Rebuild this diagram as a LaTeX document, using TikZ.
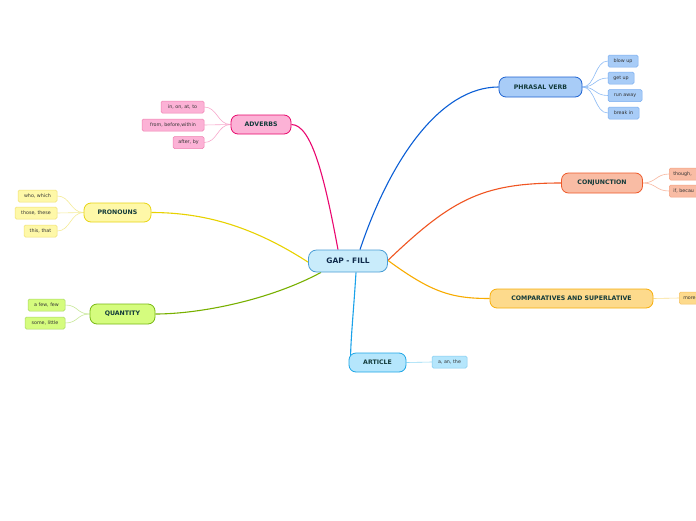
\documentclass[tikz,border=0pt]{standalone}
\usepackage{fontspec}
\setmainfont{DejaVu Sans}
\usetikzlibrary{backgrounds}
\definecolor{maintext}{HTML}{123A3A}
\definecolor{ctext}{HTML}{0F2A4A}
\definecolor{leaftext}{HTML}{333333}
\definecolor{cfill}{HTML}{C9ECFB}\definecolor{cdraw}{HTML}{4A9ED6}
\definecolor{pvfill}{HTML}{A8CCF7}\definecolor{pvdraw}{HTML}{1E63D2}\definecolor{pvedge}{HTML}{0B5FD6}\definecolor{pvldraw}{HTML}{7AAEF0}\definecolor{pvledge}{HTML}{8FBCF5}
\definecolor{cjfill}{HTML}{F9BCA4}\definecolor{cjdraw}{HTML}{EE5A2A}\definecolor{cjedge}{HTML}{F05522}\definecolor{cjldraw}{HTML}{F5A080}\definecolor{cjledge}{HTML}{F8B8A0}
\definecolor{cmfill}{HTML}{FDDA8C}\definecolor{cmdraw}{HTML}{F7AE0C}\definecolor{cmedge}{HTML}{F8AC00}\definecolor{cmldraw}{HTML}{F5C060}\definecolor{cmledge}{HTML}{FADF90}
\definecolor{arfill}{HTML}{B5E6FC}\definecolor{ardraw}{HTML}{1EA6E6}\definecolor{aredge}{HTML}{1AA2EA}\definecolor{arldraw}{HTML}{80CCF0}\definecolor{arledge}{HTML}{90D8F5}
\definecolor{qufill}{HTML}{D5FC7E}\definecolor{qudraw}{HTML}{78B814}\definecolor{quedge}{HTML}{78B000}\definecolor{quldraw}{HTML}{A8D860}\definecolor{quledge}{HTML}{C8E898}
\definecolor{prfill}{HTML}{FEF8A8}\definecolor{prdraw}{HTML}{E8D414}\definecolor{predge}{HTML}{E8D200}\definecolor{prldraw}{HTML}{F0E070}\definecolor{prledge}{HTML}{F5EC98}
\definecolor{adfill}{HTML}{FCB2D6}\definecolor{addraw}{HTML}{E8086C}\definecolor{adedge}{HTML}{EA0870}\definecolor{adldraw}{HTML}{F080B0}\definecolor{adledge}{HTML}{F8A8CC}
\begin{document}
\begin{tikzpicture}[x=1pt,y=-1pt,
  mainnode/.style={draw, rounded corners=7pt, line width=0.8pt, inner sep=0pt,
    font=\bfseries\fontsize{6.2}{7}\selectfont, text=maintext},
  leafnode/.style={draw, rounded corners=1.5pt, line width=0.5pt, inner sep=0pt,
    minimum height=12pt, font=\fontsize{4.8}{5}\selectfont, text=leaftext},
  mainedge/.style={line width=1.1pt},
  leafedge/.style={line width=0.6pt}]
\useasboundingbox (0,0) rectangle (696,520);
\clip (0,0) rectangle (696,520);

% central
\node[mainnode, fill=cfill, draw=cdraw, text=ctext, rounded corners=8pt,
  minimum width=79pt, minimum height=22pt, font=\bfseries\fontsize{7.5}{8}\selectfont] (c) at (348,261) {GAP - FILL};

% main topics
\node[mainnode, fill=pvfill, draw=pvdraw, minimum width=83pt, minimum height=20pt] (pv) at (540.5,87) {PHRASAL VERB};
\node[mainnode, fill=cjfill, draw=cjdraw, minimum width=81pt, minimum height=20pt] (cj) at (602,183) {CONJUNCTION};
\node[mainnode, fill=cmfill, draw=cmdraw, minimum width=163pt, minimum height=19pt] (cm) at (571.5,298.5) {COMPARATIVES AND SUPERLATIVE};
\node[mainnode, fill=arfill, draw=ardraw, minimum width=57pt, minimum height=19pt] (ar) at (377.5,362.5) {ARTICLE};
\node[mainnode, fill=qufill, draw=qudraw, minimum width=65pt, minimum height=20pt] (qu) at (122.5,314) {QUANTITY};
\node[mainnode, fill=prfill, draw=prdraw, minimum width=67pt, minimum height=19pt] (pr) at (117.5,212.5) {PRONOUNS};
\node[mainnode, fill=adfill, draw=addraw, minimum width=60pt, minimum height=19pt] (ad) at (261,124.5) {ADVERBS};

% phrasal verb leaves
\node[leafnode, fill=pvfill, draw=pvldraw, minimum width=30pt] (pv1) at (623,61) {blow up};
\node[leafnode, fill=pvfill, draw=pvldraw, minimum width=26pt] (pv2) at (621,78) {get up};
\node[leafnode, fill=pvfill, draw=pvldraw, minimum width=34pt] (pv3) at (625,95.5) {run away};
\node[leafnode, fill=pvfill, draw=pvldraw, minimum width=31pt] (pv4) at (623.5,113) {break in};

% conjunction leaves
\node[leafnode, fill=cjfill, draw=cjldraw, anchor=west, minimum width=40pt, text width=36pt, align=left] (cj1) at (669,174) {\hspace*{2pt}though,};
\node[leafnode, fill=cjfill, draw=cjldraw, anchor=west, minimum width=40pt, text width=36pt, align=left] (cj2) at (669,191) {\hspace*{2pt}if, becau};

% comparatives leaf
\node[leafnode, fill=cmfill, draw=cmldraw, anchor=west, minimum width=40pt, text width=36pt, align=left] (cm1) at (679,298) {\hspace*{2pt}more};

% article leaf
\node[leafnode, fill=arfill, draw=arldraw, minimum width=35pt] (ar1) at (449.5,362) {a, an, the};

% adverbs leaves
\node[leafnode, fill=adfill, draw=adldraw, minimum width=43pt] (ad1) at (182.5,107) {in, on, at, to};
\node[leafnode, fill=adfill, draw=adldraw, minimum width=62pt] (ad2) at (173,125) {from, before,within};
\node[leafnode, fill=adfill, draw=adldraw, minimum width=31pt] (ad3) at (188.5,142.5) {after, by};

% pronouns leaves
\node[leafnode, fill=prfill, draw=prldraw, minimum width=39pt] (pr1) at (37.5,196) {who, which};
\node[leafnode, fill=prfill, draw=prldraw, minimum width=42pt] (pr2) at (36,213) {those, these};
\node[leafnode, fill=prfill, draw=prldraw, minimum width=33pt] (pr3) at (40.5,231) {this, that};

% quantity leaves
\node[leafnode, fill=qufill, draw=quldraw, minimum width=37pt] (qu1) at (46.5,305) {a few, few};
\node[leafnode, fill=qufill, draw=quldraw, minimum width=40pt] (qu2) at (45,323) {some, little};

\begin{pgfonlayer}{background}
\fill[white] (0,0) rectangle (696,520);
% main connectors
\draw[mainedge, pvedge] ([xshift=12pt]c.north) .. controls (390,160) and (440,87) .. (pv.west);
\draw[mainedge, adedge] ([xshift=-10pt]c.north) .. controls (325,180) and (312,124.5) .. (ad.east);
\draw[mainedge, cjedge] ([xshift=33pt,yshift=-6pt]c.center) .. controls (450,200) and (480,183) .. (cj.west);
\draw[mainedge, cmedge] ([xshift=34pt,yshift=5pt]c.center) .. controls (430,292) and (450,298.5) .. (cm.west);
\draw[mainedge, aredge] ([xshift=8pt]c.south) .. controls (353,320) and (350,345) .. ([xshift=2pt,yshift=-4pt]ar.west);
\draw[mainedge, quedge] ([xshift=-27pt]c.south) .. controls (270,300) and (200,314) .. (qu.east);
\draw[mainedge, predge] ([xshift=-34pt,yshift=-5pt]c.center) .. controls (260,230) and (210,212.5) .. (pr.east);
% leaf connectors
\foreach \n in {pv1,pv2,pv3,pv4}
  \draw[leafedge, pvledge] (pv.east) .. controls +(13,0) and +(-13,0) .. (\n.west);
\foreach \n in {cj1,cj2}
  \draw[leafedge, cjledge] (cj.east) .. controls +(13,0) and +(-13,0) .. (\n.west);
\draw[leafedge, cmledge] (cm.east) -- (cm1.west);
\draw[leafedge, arledge] (ar.east) -- (ar1.west);
\foreach \n in {ad1,ad2,ad3}
  \draw[leafedge, adledge] (ad.west) .. controls +(-13,0) and +(13,0) .. (\n.east);
\foreach \n in {pr1,pr2,pr3}
  \draw[leafedge, prledge] (pr.west) .. controls +(-13,0) and +(13,0) .. (\n.east);
\foreach \n in {qu1,qu2}
  \draw[leafedge, quledge] (qu.west) .. controls +(-13,0) and +(13,0) .. (\n.east);
\end{pgfonlayer}
\end{tikzpicture}
\end{document}
